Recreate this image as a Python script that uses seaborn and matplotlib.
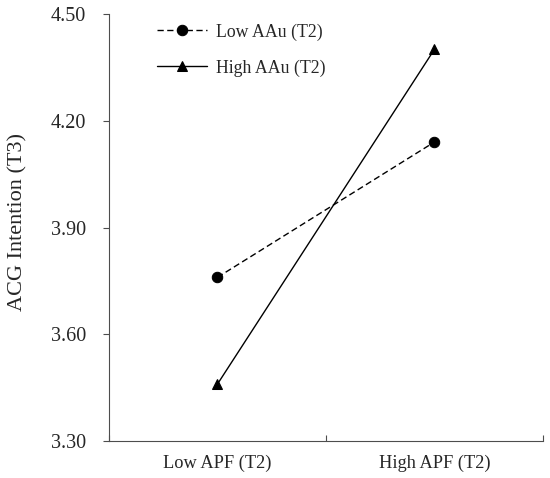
import pandas as pd
import matplotlib
matplotlib.use('Agg')
import matplotlib.pyplot as plt
import seaborn as sns

# data
apf_levels = ['Low APF (T2)', 'High APF (T2)']
aau_levels = ['Low AAu (T2)', 'High AAu (T2)']
low_aau = [3.76, 4.14]
high_aau = [3.46, 4.40]
y_ticks = [3.30, 3.60, 3.90, 4.20, 4.50]

df = pd.DataFrame({
    'APF': apf_levels * 2,
    'AAu': [aau_levels[0]] * 2 + [aau_levels[1]] * 2,
    'ACG': low_aau + high_aau,
})

sns.set_style('ticks')
plt.rcParams['font.family'] = ['Liberation Serif', 'DejaVu Serif']

fig = plt.figure(figsize=(5.5, 4.78), dpi=100)
ax = fig.add_axes([0.198, 0.077, 0.789, 0.894])

sns.pointplot(data=df, x='APF', y='ACG', hue='AAu', order=apf_levels,
              hue_order=aau_levels, palette=['black', 'black'],
              markers=['o', '^'], linestyles=[(0, (4.5, 2.5)), '-'],
              markersize=7.5, linewidth=1, ax=ax)

ax.set_xlim(-0.5, 1.5)
ax.set_ylim(3.30, 4.50)
ax.set_yticks(y_ticks)
ax.set_yticklabels([f'{v:.2f}' for v in y_ticks], fontsize=14.5)
ax.set_xlabel('')
ax.set_ylabel('ACG Intention (T3)', fontsize=16, labelpad=17)
ax.yaxis.label.set_y(0.512)
ax.tick_params(axis='x', which='major', length=0, labelsize=13.2, pad=10)
ax.set_xticks([-0.5, 0.5, 1.5], minor=True)
ax.tick_params(axis='x', which='minor', bottom=True, direction='in', length=4,
               width=0.8, color='#4d4d4d')
ax.tick_params(axis='y', direction='out', length=4.5, width=0.8, color='#4d4d4d',
               left=True, pad=12)

for side in ['top', 'right']:
    ax.spines[side].set_visible(False)
for side in ['left', 'bottom']:
    ax.spines[side].set_color('#4d4d4d')
    ax.spines[side].set_linewidth(0.8)

handles = ax.get_legend().legend_handles
ax.get_legend().remove()
ax.legend(handles=handles, labels=aau_levels, loc='upper left',
          bbox_to_anchor=(0.073, 1.015), frameon=False, fontsize=12.8,
          labelspacing=1.05, handlelength=2.85, handletextpad=0.5)

fig.savefig('out.png', dpi=100)
